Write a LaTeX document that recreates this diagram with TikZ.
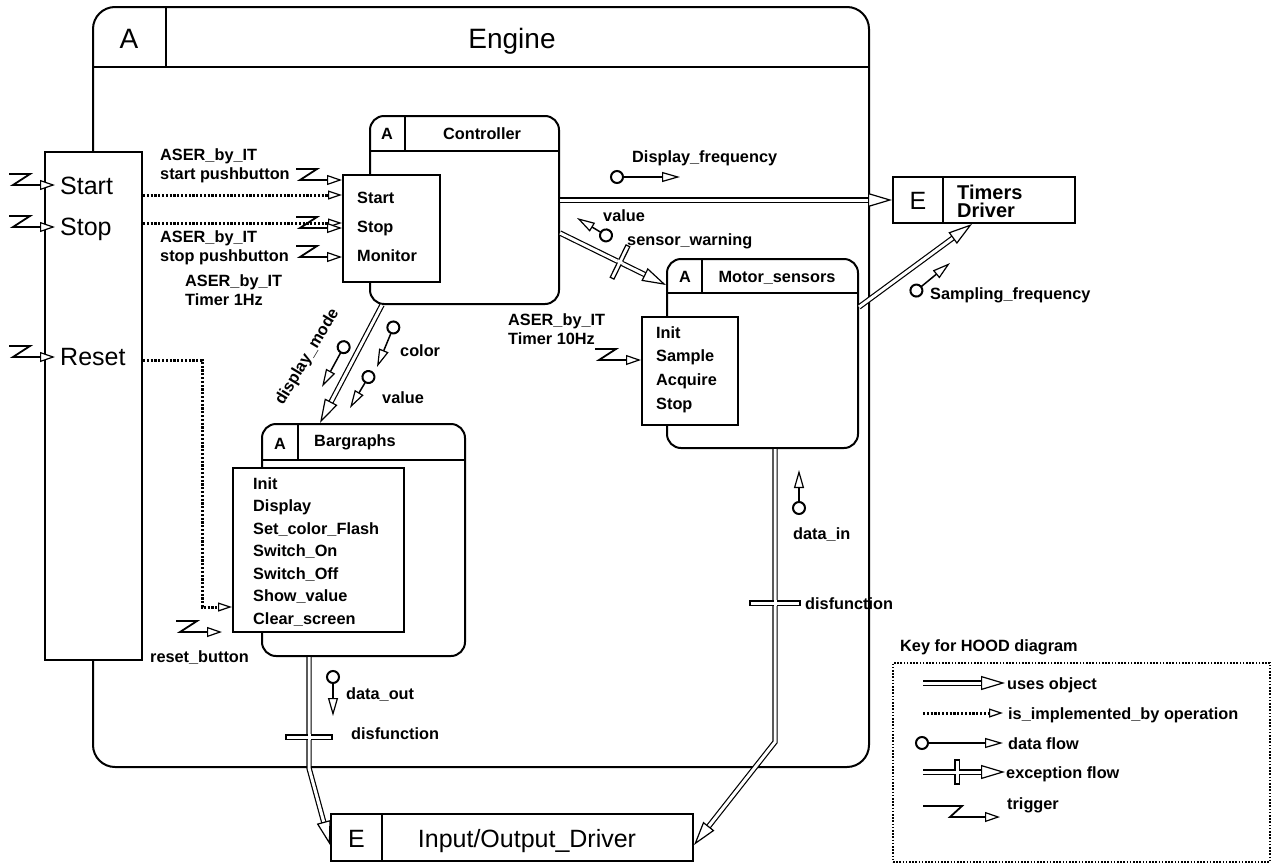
\documentclass[tikz,border=0pt]{standalone}
\usepackage{fontspec}
\setmainfont{Liberation Sans}
\usetikzlibrary{arrows.meta,decorations.markings}
\tikzset{
  hood/.style={draw, line width=2pt, rounded corners=14pt, fill=white, inner sep=0pt},
  opbox/.style={draw, line width=2pt, fill=white, inner sep=0pt},
  thinl/.style={line width=1.6pt},
  txt/.style={inner sep=0pt, font=\bfseries\fontsize{16.3}{18}\selectfont, text height=12pt, text depth=0pt},
  lab/.style={inner sep=0pt, font=\bfseries\fontsize{16.3}{18.5}\selectfont, align=left},
  bigtxt/.style={inner sep=0pt, font=\fontsize{25}{25}\selectfont, text height=18pt, text depth=0pt},
  hugetxt/.style={inner sep=0pt, font=\fontsize{28}{28}\selectfont, text height=20pt, text depth=0pt},
  uses/.style={double, double distance=3pt, line width=1.2pt, shorten >=12pt,
    postaction={decorate, decoration={markings, mark=at position 1 with {\pgfsetinnerlinewidth{0pt}\arrow[line width=1.2pt]{Triangle[open, fill=white, length=24pt, width=14pt]}}}}},
  impl/.style={line width=3pt, dash pattern=on 2.2pt off 1.6pt, -{Triangle[open, fill=white, length=14pt, width=9pt, line width=1.2pt]}},
  dflow/.style={line width=1.5pt, arrows={Circle[open, fill=white, length=14pt, line width=2pt]-Triangle[open, fill=white, length=18pt, width=10pt, line width=1.2pt]}},
  trig/.pic={
    \draw[line width=1.8pt] (-46,-11) -- (-25,-11) -- (-42,0) -- (-22,0);
    \draw[line width=1.2pt, -{Triangle[open, fill=white, length=15pt, width=10pt]}] (-23,0) -- (0,0);
  },
  xbar/.pic={
    \draw[line width=1.2pt, fill=white] (-#1,-2.1) rectangle (#1,2.1);
    \fill[white] (-1.5,-3) rectangle (1.5,3);
  }
}
\begin{document}
\begin{tikzpicture}[x=1pt, y=-1pt]
\useasboundingbox (0,0) rectangle (1272,865);

\node[hood, rounded corners=22pt, minimum width=776pt, minimum height=760pt] (engine) at (481,387) {};
\draw[line width=2pt] (engine.west |- 0,67) -- (engine.east |- 0,67);
\draw[thinl] (166,0 |- engine.north) -- (166,67);
\node[hugetxt] (engA) at (129,38) {A};
\node[hugetxt] (engT) at (512,38) {Engine};

\node[opbox, minimum width=97pt, minimum height=508pt] (engops) at (93.5,406) {};
\node[bigtxt, anchor=west] (eStart) at (60,185) {Start};
\node[bigtxt, anchor=west] (eStop) at (60,226) {Stop};
\node[bigtxt, anchor=west] (eReset) at (60,356) {Reset};

\node[hood, minimum width=189pt, minimum height=188pt] (ctl) at (464.5,210) {};
\draw[thinl] (ctl.west |- 0,151) -- (ctl.east |- 0,151);
\draw[thinl] (405,0 |- ctl.north) -- (405,151);
\node[txt] (ctlA) at (387,133) {A};
\node[txt] (ctlT) at (482,133) {Controller};
\node[opbox, minimum width=97pt, minimum height=107pt] (ctlops) at (391.5,228.5) {};
\foreach \op [count=\i] in {Start,Stop,Monitor}
  \node[txt, anchor=west] (cop\i) at (357,168+29*\i) {\op};

\node[hood, minimum width=191pt, minimum height=189pt] (mot) at (762.5,353.5) {};
\draw[thinl] (mot.west |- 0,293) -- (mot.east |- 0,293);
\draw[thinl] (702,0 |- mot.north) -- (702,293);
\node[txt] (motA) at (685,276) {A};
\node[txt] (motT) at (777,276) {Motor\_sensors};
\node[opbox, minimum width=96pt, minimum height=108pt] (motops) at (690,371) {};
\foreach \op [count=\i] in {Init,Sample,Acquire,Stop}
  \node[txt, anchor=west] (mop\i) at (656,308.3+23.7*\i) {\op};

\node[hood, minimum width=203pt, minimum height=232pt] (barg) at (363.5,540) {};
\draw[thinl] (barg.west |- 0,460) -- (barg.east |- 0,460);
\draw[thinl] (298,0 |- barg.north) -- (298,460);
\node[txt] (bargA) at (280,443) {A};
\node[txt] (bargT) at (355,440) {Bargraphs};
\node[opbox, minimum width=171pt, minimum height=164pt] (bargops) at (318.5,550) {};
\foreach \op [count=\i] in {Init,Display,Set\_color\_Flash,Switch\_On,Switch\_Off,Show\_value,Clear\_screen}
  \node[txt, anchor=west] (bop\i) at (253,460.5+22.5*\i) {\op};

\node[opbox, minimum width=182pt, minimum height=46pt] (tmr) at (984,200) {};
\draw[thinl] (943,0 |- tmr.north) -- (943,0 |- tmr.south);
\node[bigtxt] (tmrE) at (918,200) {E};
\node[lab, anchor=west, font=\bfseries\fontsize{20}{18}\selectfont] (tmrT) at (957,201) {Timers\\Driver};

\node[opbox, minimum width=362pt, minimum height=47pt] (io) at (512,837.5) {};
\draw[thinl] (382,0 |- io.north) -- (382,0 |- io.south);
\node[bigtxt] (ioE) at (356.5,838) {E};
\node[bigtxt] (ioT) at (527,838) {Input/Output\_Driver};

\draw[uses] (ctl.east |- tmr.west) -- (tmr.west);
\draw[uses] (ctl.east |- 0,233) -- (mot.west |- 0,285);
\pic[rotate=64] at (620,262) {xbar=18};
\draw[uses] (mot.east |- 0,307) -- (972,0 |- tmr.south);
\draw[uses] (382,0 |- ctl.south) -- (320,0 |- barg.north);
\draw[uses] (309,0 |- barg.south) -- (309,768) -- (io.west |- 0,845);
\pic at (309,737) {xbar=23};
\draw[uses] (775,0 |- mot.south) -- (775,742) -- (io.east |- 0,845);
\pic at (775,603) {xbar=25};

\draw[impl] (engops.east |- 0,195) -- (ctlops.west |- 0,195);
\draw[impl] (engops.east |- 0,223) -- (ctlops.west |- 0,223);
\draw[impl] (engops.east |- 0,360) -| (202,607) -- (bargops.west |- 0,607);

\pic at (55,185) {trig};
\pic at (55,227) {trig};
\pic at (55,357) {trig};
\pic at (ctlops.west |- 0,180) {trig};
\pic at (ctlops.west |- 0,228) {trig};
\pic at (ctlops.west |- 0,257) {trig};
\pic at (motops.west |- 0,360) {trig};
\pic at (222,632) {trig};

\draw[dflow] (610,177) -- (680,177);
\draw[dflow] (612,239) -- (577,218);
\draw[dflow] (911,295) -- (950,263);
\draw[dflow] (347,341) -- (322,387);
\draw[dflow] (396,321) -- (377,367);
\draw[dflow] (372,371) -- (350,408);
\draw[dflow] (799,515) -- (799,470);
\draw[dflow] (333,670) -- (333,716);

\node[lab, anchor=west] (labA) at (160,166) {ASER\_by\_IT\\start pushbutton};
\node[lab, anchor=west] (labB) at (160,248) {ASER\_by\_IT\\stop pushbutton};
\node[lab, anchor=west] (labC) at (185,290) {ASER\_by\_IT\\Timer 1Hz};
\node[lab, anchor=west] (labD) at (508,329) {ASER\_by\_IT\\Timer 10Hz};
\node[txt, anchor=west] (lDisp) at (632,156) {Display\_frequency};
\node[txt, anchor=west] (lVal) at (603,215) {value};
\node[txt, anchor=west] (lSens) at (627,239) {sensor\_warning};
\node[txt, anchor=west] (lSamp) at (930,293) {Sampling\_frequency};
\node[txt, rotate=59] (lMode) at (306,356) {display\_mode};
\node[txt, anchor=west] (lCol) at (400,350) {color};
\node[txt, anchor=west] (lVal2) at (382,397) {value};
\node[txt, anchor=west] (lIn) at (793,533) {data\_in};
\node[txt, anchor=west] (lDis1) at (805,603) {disfunction};
\node[txt, anchor=west] (lOut) at (346,693) {data\_out};
\node[txt, anchor=west] (lDis2) at (351,733) {disfunction};
\node[txt, anchor=west] (lReset) at (150,656) {reset\_button};

\node[txt, anchor=west] (lKey) at (900,645) {Key for HOOD diagram};
\node[draw, line width=2pt, dash pattern=on 1.6pt off 1.6pt, inner sep=0pt, minimum width=377pt, minimum height=199pt] (key) at (1081.5,762.5) {};
\draw[uses] (923,683) -- (1005,683);
\node[txt, anchor=west] (k1) at (1007,683) {uses object};
\draw[impl] (923,713) -- (1003,713);
\node[txt, anchor=west] (k2) at (1008,713) {is\_implemented\_by operation};
\draw[dflow] (915,743) -- (1003,743);
\node[txt, anchor=west] (k3) at (1008,743) {data flow};
\draw[uses] (923,772) -- (1005,772);
\pic[rotate=90] at (957,772) {xbar=12};
\node[txt, anchor=west] (k4) at (1006,772) {exception flow};
\draw[line width=1.8pt] (923,806) -- (962,806) -- (950,817) -- (980,817);
\draw[line width=1.2pt, -{Triangle[open, fill=white, length=15pt, width=10pt]}] (978,817) -- (1000,817);
\node[txt, anchor=west] (k5) at (1007,803) {trigger};
\end{tikzpicture}
\end{document}
